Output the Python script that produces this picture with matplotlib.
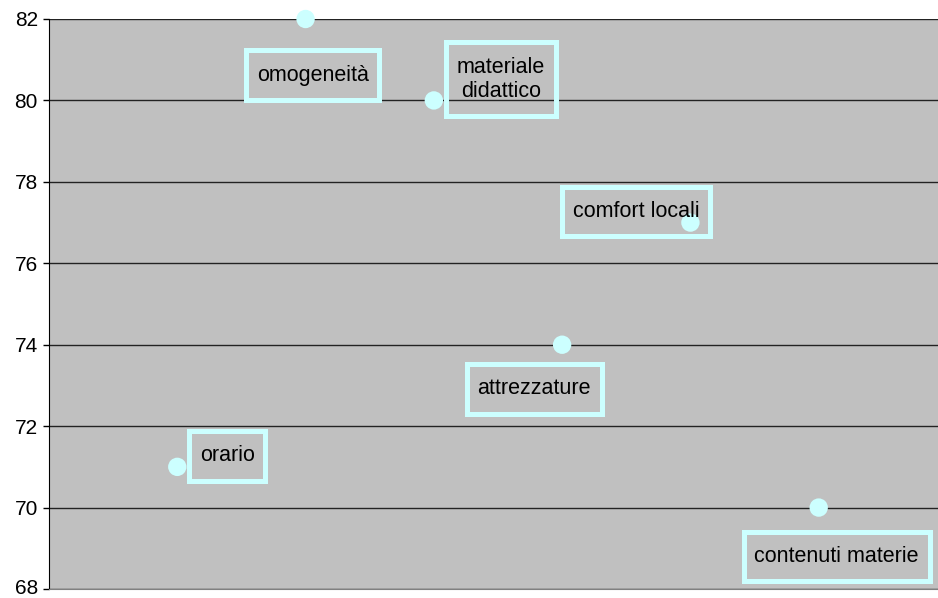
import matplotlib.pyplot as plt
from matplotlib.path import Path
from matplotlib.transforms import ScaledTranslation

plt.rcParams['font.family'] = ['Liberation Sans', 'DejaVu Sans']

labels = ['orario', 'omogeneità', 'materiale\ndidattico', 'attrezzature',
          'comfort locali', 'contenuti materie']
values = [71, 82, 80, 74, 77, 70]
xpos = [1, 2, 3, 4, 5, 6]
# label offsets from the point, in pixels
offsets = [(50, 11), (7, -56), (67, 21), (-28, -44), (-54, 11), (18, -49)]


def tallbox(x0, y0, width, height, mutation_size):
    # square box, more padding up/down than left/right
    px = 0.5 * mutation_size
    py = 0.67 * mutation_size
    x1, y1 = x0 - px, y0 - py
    x2, y2 = x0 + width + px, y0 + height + py
    return Path([(x1, y1), (x2, y1), (x2, y2), (x1, y2), (x1, y1)],
                closed=True)


fig = plt.figure(figsize=(9.38, 5.98), dpi=100)
ax = fig.add_axes([49 / 938, 9 / 598, 889 / 938, 570 / 598])
ax.set_facecolor('#C0C0C0')

ax.set_xlim(0, 6.93)
ax.set_ylim(68, 82)
ax.set_yticks(range(68, 83, 2))
ax.set_xticks([])
ax.grid(axis='y', color='#222222', linewidth=1)
ax.set_axisbelow(True)
for s in ['top', 'right']:
    ax.spines[s].set_visible(False)
ax.spines['bottom'].set_color('#808080')
ax.spines['left'].set_color('black')
ax.tick_params(axis='y', length=4, width=1, labelsize=15, pad=4)

# nudge the bottom tick label up a little so it stays inside the figure
lab0 = ax.get_yticklabels()[0]
lab0.set_transform(lab0.get_transform()
                   + ScaledTranslation(0, 3 / 100, fig.dpi_scale_trans))

ax.scatter(xpos, values, s=175, color='#CCFFFF', zorder=3, clip_on=False,
           edgecolors='none')

for x, y, lab, (dx, dy) in zip(xpos, values, labels, offsets):
    ax.annotate(lab, (x, y), xytext=(dx, dy), textcoords='offset pixels',
                ha='center', va='center', fontsize=15.5, linespacing=1.2,
                annotation_clip=False, zorder=4,
                bbox=dict(boxstyle=tallbox, fc='none',
                          ec='#CCFFFF', lw=3.6))

fig.savefig('out.png', dpi=100)
